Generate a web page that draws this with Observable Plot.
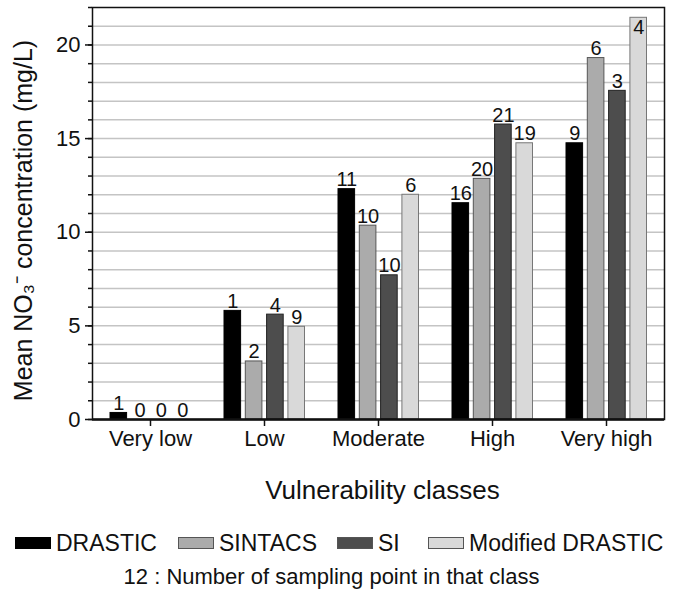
<!DOCTYPE html>
<html>
<head>
<meta charset="utf-8">
<script src="https://cdn.jsdelivr.net/npm/d3@7"></script>
<script src="https://cdn.jsdelivr.net/npm/@observablehq/plot@0.6"></script>
<style>
  body { margin: 0; background: #fff; font-family: "Liberation Sans", Arial, sans-serif; }
  #wrap { width: 675px; }
  .legend { position: relative; margin-top: 22px; font-size: 23px; color: #111; height: 24px; }
  .legend .item { position: absolute; top: 0; display: flex; align-items: center; height: 24px; }
  .legend .sw { width: 36px; height: 12px; border: 1px solid #444; margin-right: 5px; box-sizing: border-box; }
  .caption { text-align: center; font-size: 22px; color: #111; margin-top: 9px; margin-left: -12px; }
</style>
</head>
<body>
<div id="wrap"></div>
<script>
const classes = ["Very low", "Low", "Moderate", "High", "Very high"];
const series = ["DRASTIC", "SINTACS", "SI", "Modified DRASTIC"];
const colors = ["#000000", "#ababab", "#4d4d4d", "#d9d9d9"];
const strokes = ["#000000", "#555555", "#222222", "#777777"];

const drastic  = [0.35, 5.8, 12.3, 11.55, 14.75];
const sintacs  = [0, 3.1, 10.35, 12.85, 19.3];
const si       = [0, 5.6, 7.7, 15.75, 17.55];
const modified = [0, 4.95, 12.0, 14.75, 21.45];

const nDrastic  = [1, 1, 11, 16, 9];
const nSintacs  = [0, 2, 10, 20, 6];
const nSi       = [0, 4, 10, 21, 3];
const nModified = [0, 9, 6, 19, 4];

const yTicks = [0, 5, 10, 15, 20];
const yLabel = "Mean NO\u2083\u207B concentration (mg/L)";
const xLabel = "Vulnerability classes";
const caption = "12 : Number of sampling point in that class";

const values = [drastic, sintacs, si, modified];
const counts = [nDrastic, nSintacs, nSi, nModified];

const W = 675, mL = 92, mR = 11, yMax = 22;
const step = (W - mL - mR) / classes.length;
const barW = 17, barStep = 21.3, off0 = 17;

const marks = [
  Plot.gridY(d3.range(1, yMax), {stroke: "#c4c4c4", strokeOpacity: 1, strokeWidth: 1.5})
];
series.forEach((s, i) => {
  const data = classes.map((c, k) => ({cls: c, v: values[i][k], n: counts[i][k]}));
  const left = off0 + barStep * i;
  const right = step - left - barW;
  const dx = left + barW / 2 - step / 2;
  marks.push(Plot.barY(data, {
    x: "cls", y: "v", fill: colors[i], stroke: strokes[i], strokeWidth: 1,
    insetLeft: left, insetRight: right
  }));
  marks.push(Plot.text(data.filter(d => d.v < yMax - 1.2), {
    x: "cls", y: "v", text: d => String(d.n), dx,
    dy: -3, lineAnchor: "bottom", fontSize: 20, fill: "#111"
  }));
  marks.push(Plot.text(data.filter(d => d.v >= yMax - 1.2), {
    x: "cls", y: "v", text: d => String(d.n), dx,
    dy: 2, lineAnchor: "top", fontSize: 20, fill: "#111"
  }));
});
marks.push(Plot.frame({stroke: "#111", strokeWidth: 1.5}));
marks.push(Plot.ruleY([0], {stroke: "#111", strokeWidth: 2.5}));
marks.push(Plot.axisY(d3.range(0, yMax + 1), {tickSize: 4, tickFormat: () => "", label: null, stroke: "#111", strokeWidth: 1.5}));
marks.push(Plot.axisY(yTicks, {
  tickSize: 7, tickPadding: 5, fontSize: 22, stroke: "#111", strokeWidth: 1.5, fill: "#111",
  label: yLabel, labelArrow: "none", labelAnchor: "center", labelOffset: 78
}));
marks.push(Plot.axisX({
  tickSize: 7, tickPadding: 4, fontSize: 22, stroke: "#111", strokeWidth: 1.5, fill: "#111",
  label: xLabel, labelArrow: "none", labelAnchor: "center", labelOffset: 79
}));

const chart = Plot.plot({
  width: W,
  height: 509,
  marginTop: 7,
  marginLeft: mL,
  marginRight: mR,
  marginBottom: 90,
  style: {fontFamily: "'Liberation Sans', Arial, sans-serif", fontSize: "22px", color: "#111", background: "#fff"},
  x: {domain: classes, padding: 0, label: null},
  y: {domain: [0, yMax], label: null},
  marks
});
d3.select(chart).selectAll("text").each(function() {
  const t = this.textContent;
  const isY = t.includes("concentration"), isX = t.includes("Vulnerability");
  if (isY || isX) {
    this.textContent = t.replace(/\s*[\u2191\u2192\u2190\u2193]\s*/g, "").trim();
    const fs = isY ? "25px" : "26px";
    this.setAttribute("font-size", fs);
    this.style.fontSize = fs;
    this.setAttribute("dx", isY ? "-7" : "4");
  }
});

const wrap = document.getElementById("wrap");
wrap.appendChild(chart);

const legPos = [15, 178, 337, 428];
const leg = document.createElement("div");
leg.className = "legend";
series.forEach((s, i) => {
  const it = document.createElement("div");
  it.className = "item";
  it.style.left = legPos[i] + "px";
  const sw = document.createElement("div");
  sw.className = "sw";
  sw.style.background = colors[i];
  sw.style.borderColor = i === 0 ? "#000" : "#555";
  const t = document.createElement("span");
  t.textContent = s;
  it.appendChild(sw); it.appendChild(t);
  leg.appendChild(it);
});
wrap.appendChild(leg);
const cap = document.createElement("div");
cap.className = "caption";
cap.textContent = caption;
wrap.appendChild(cap);
</script>
</body>
</html>
